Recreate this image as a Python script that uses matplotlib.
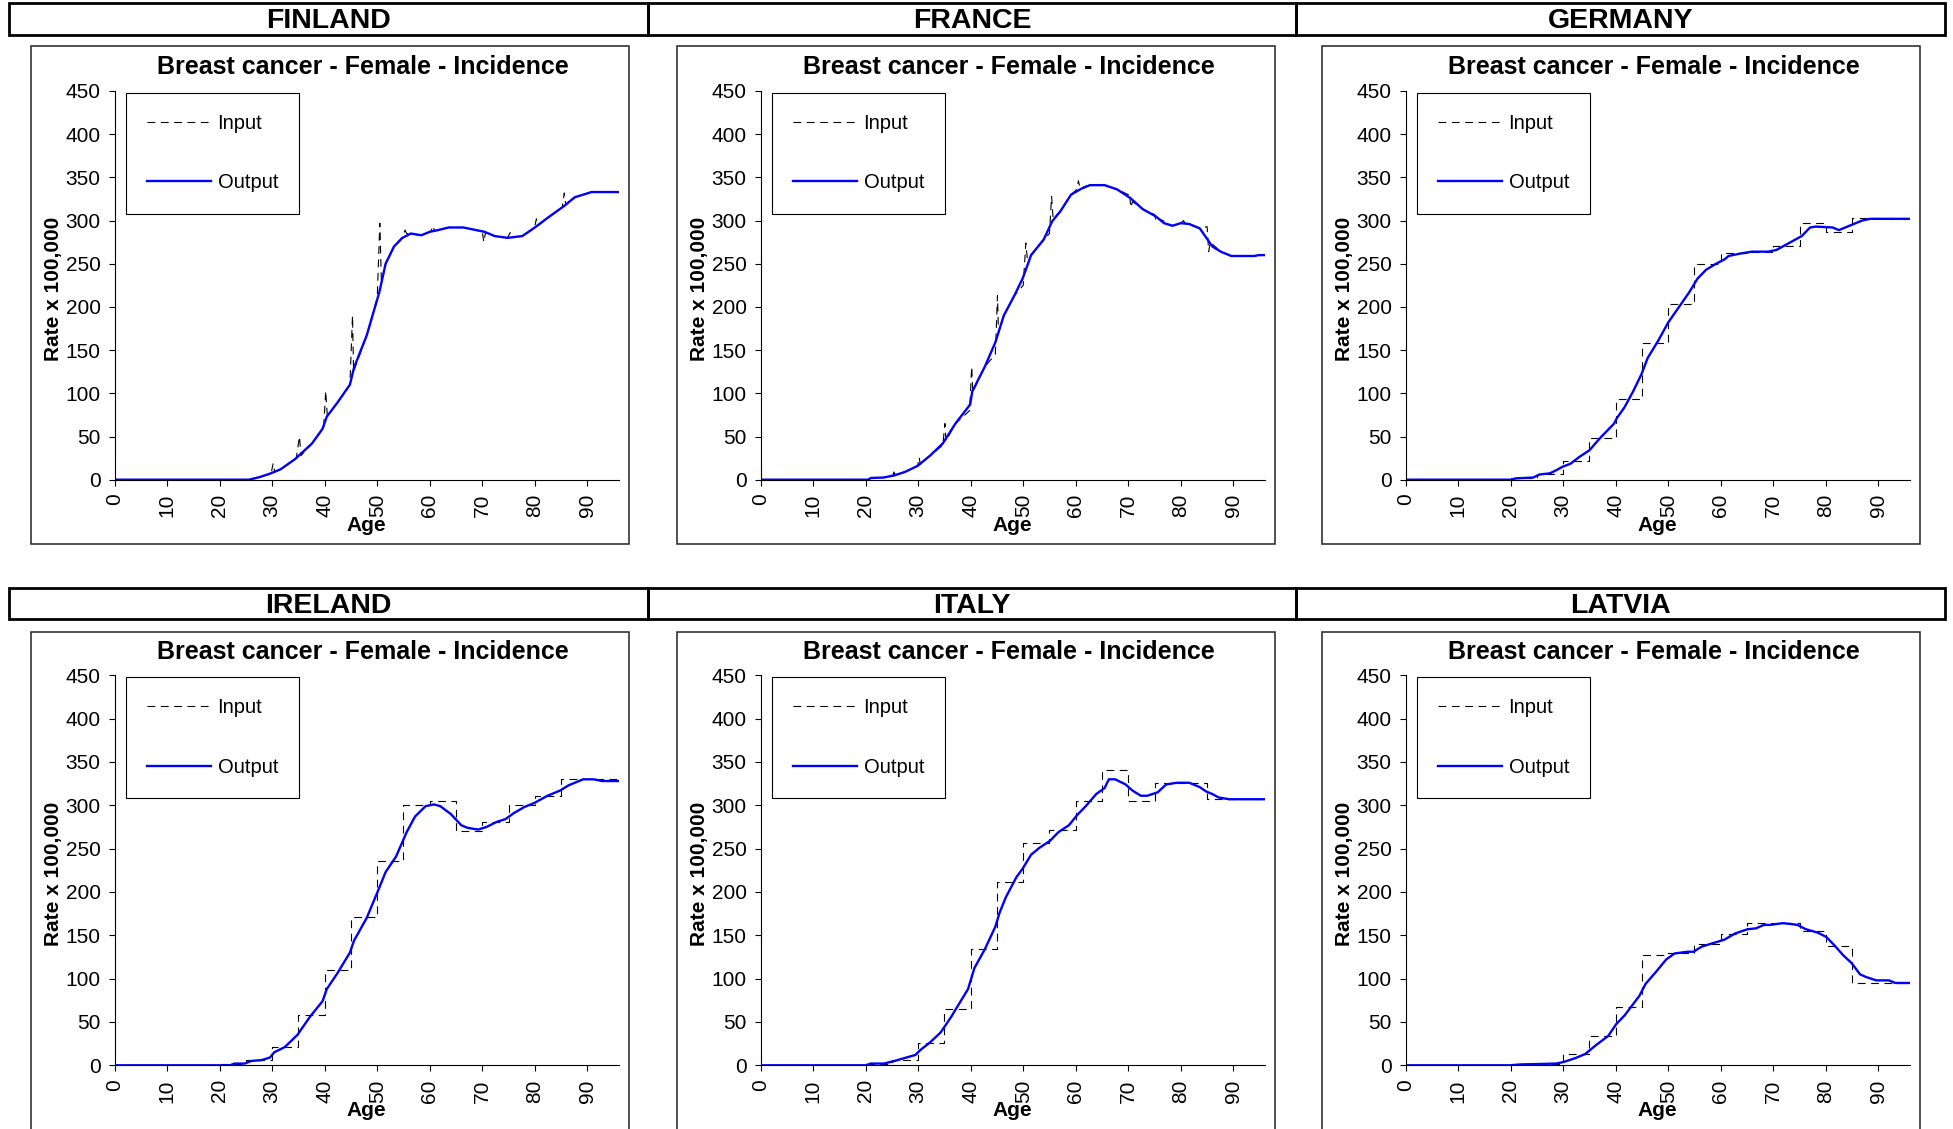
import matplotlib
matplotlib.use("Agg")
import matplotlib.pyplot as plt
from matplotlib.patches import Rectangle

plt.rcParams['font.family'] = ['Liberation Sans', 'DejaVu Sans']

W, H = 1953, 1129

countries = ['FINLAND', 'FRANCE', 'GERMANY', 'IRELAND', 'ITALY', 'LATVIA']
title = 'Breast cancer - Female - Incidence'

# step inputs (5-year age groups, last value repeated for steps-post)
step_ages = [0, 20, 25, 30, 35, 40, 45, 50, 55, 60, 65, 70, 75, 80, 85, 90, 96]
germany_in = [0, 2, 6.5, 22, 48, 94, 158, 203, 250, 263, 264, 270, 297, 287, 303, 303, 303]
ireland_in = [0, 2, 6, 21, 58, 110, 171, 236, 300, 305, 270, 281, 300, 311, 330, 330, 330]
italy_in = [0, 2, 6.5, 26, 65, 134, 212, 257, 272, 305, 341, 305, 326, 326, 307, 307, 307]
latvia_in = [0, 1, 2, 12.5, 34, 67, 127, 130, 140, 151, 164, 164, 155.5, 138, 95, 95, 95]

# Finland / France inputs follow the output with spikes at the group edges
finland_in_age = [0, 25.5, 27.6, 29.8, 30.2, 30.5, 31.6, 34.6, 35.2, 35.5, 37.6, 39.8, 40.2, 40.5,
                  42.4, 44.8, 45.3, 45.5, 48, 50, 50.5, 50.8, 51.6, 53.2, 54.8, 55.3, 55.6, 58.4,
                  60.2, 60.6, 60.9, 63.6, 66.4, 68.8, 70, 70.3, 70.6, 72.4, 74.8, 75.3, 75.6,
                  77.6, 79.9, 80.3, 80.6, 82.4, 85.2, 85.6, 85.9, 87.6, 90.8, 96]
finland_in_val = [0, 0, 3, 7, 19, 9, 12, 25, 50, 28, 42, 60, 103, 74,
                  89, 110, 190, 125, 167, 210, 297, 228, 250, 270, 281, 289, 285, 283,
                  287, 294, 288, 292, 292, 289, 287, 275, 286, 282, 280, 286, 281,
                  282, 291, 302, 294, 303, 315, 332, 318, 327, 333, 333]
france_in_age = [0, 20.5, 21, 23.4, 25.2, 25.4, 25.6, 27.5, 29.9, 30.2, 30.4, 32.3, 34.7, 35.1,
                 35.3, 37.1, 39.8, 40.2, 40.4, 42.7, 44.7, 45.1, 45.3, 46.3, 48.3, 50, 50.5,
                 50.8, 53.9, 55, 55.4, 55.7, 57.1, 59.1, 60.2, 60.5, 60.8, 62.7, 65.5, 67.9,
                 70, 70.2, 70.5, 70.8, 72.8, 75, 75.3, 75.6, 78.4, 80, 80.5, 80.8, 83.6, 85,
                 85.3, 85.6, 87.6, 89.6, 94, 96]
france_in_val = [0, 0, 2, 2.5, 5, 9, 6, 9, 16, 26, 18, 28, 40, 65,
                 45, 65, 80, 131, 102, 131, 145, 213, 170, 190, 213, 225, 274,
                 255, 278, 285, 328, 302, 311, 330, 336, 346, 338, 341, 341, 336,
                 330, 332, 315, 322, 313, 307, 299, 303, 294, 297, 300, 297, 291, 293,
                 264, 275, 264, 259, 259, 260]

# smoothed outputs
finland_out_age = [0, 25.6, 27.6, 29.6, 31.6, 34.4, 37.6, 39.6, 40.4, 42.4, 44.8, 45.6, 48, 50.4,
                   51.6, 53.2, 54.8, 56.4, 58.4, 60, 61.6, 63.6, 66.4, 68.8, 70.4, 72.4, 74.8,
                   77.6, 80, 82.4, 85.6, 87.6, 90.8, 96]
finland_out_val = [0, 0, 3, 7, 12, 24, 42, 59, 73, 89, 110, 130, 167, 217,
                   250, 270, 280, 285, 283, 287, 289, 292, 292, 289, 287, 282, 280,
                   282, 292, 303, 317, 327, 333, 333]
france_out_age = [0, 20.5, 21, 23.4, 25.5, 27.5, 29.9, 32.3, 34.7, 37.1, 39.9, 40.3, 42.7, 44.7,
                  46.3, 48.3, 49.9, 51.5, 53.9, 55.5, 57.1, 59.1, 61.1, 62.7, 65.5, 67.9, 70.4,
                  72.8, 75.2, 76.8, 78.4, 80, 81.6, 83.6, 86, 87.6, 89.6, 94, 94.8, 96]
france_out_val = [0, 0, 2, 2.5, 5, 9, 16, 28, 42, 65, 87, 102, 131, 159,
                  190, 213, 233, 260, 278, 299, 311, 330, 337, 341, 341, 336, 326,
                  313, 305, 297, 294, 297, 296, 291, 270, 264, 259, 259, 260, 260]
germany_out_age = [0, 20, 21.1, 24.3, 25.5, 27.5, 28.7, 29.9, 31.4, 33, 35, 37, 39.7, 40.2, 41.7,
                   43.3, 44.9, 46.1, 48.1, 50, 51.6, 54, 55.6, 57.2, 59.1, 60.7, 61.5, 63.9,
                   65.9, 69, 70.6, 73, 75.4, 77, 78.1, 81.3, 82.5, 84.5, 86.9, 88.4, 96]
germany_out_val = [0, 0, 1.6, 2.5, 6, 7.4, 11, 15, 18.5, 26, 34, 48, 65, 71, 84,
                   102, 122, 141, 161, 182, 196, 217, 233, 243, 250, 255, 259, 262,
                   264, 264, 266, 274, 282, 292, 293, 292, 289, 294, 300, 302, 302]
ireland_out_age = [0, 22, 22.8, 24.8, 26, 28, 29.6, 30.4, 32.4, 34.8, 37.2, 39.6, 40.4, 42.4,
                   44.8, 45.6, 48, 50.4, 51.6, 53.6, 55.6, 57.2, 59.2, 60.8, 62, 64, 66, 67.2,
                   69.2, 70.8, 72.8, 74.4, 76, 78, 80, 82.4, 84.8, 86.4, 89.2, 91.2, 92.8, 96]
ireland_out_val = [0, 0, 2, 2, 5, 6, 9, 15, 21, 35, 56, 74, 88, 106,
                   130, 144, 170, 205, 223, 241, 269, 287, 299, 301, 299, 290, 277, 274,
                   272, 275, 281, 284, 291, 298, 303, 311, 317, 323, 330, 330, 328, 328]
italy_out_age = [0, 20, 21, 23.5, 25.5, 27.5, 29.5, 30.3, 32.3, 34.3, 36.3, 39.5, 40.7, 42.7,
                 44.7, 45.5, 46.7, 48.7, 49.9, 51.5, 53.1, 55.1, 56.7, 58.7, 60.3, 61.9, 63.9,
                 65.5, 66.3, 67.5, 69.5, 70.8, 72.4, 73.6, 75.6, 77.2, 79.2, 81.6, 83.6, 84.8,
                 86, 87.2, 89.2, 96]
italy_out_val = [0, 0, 2, 2, 5, 8.5, 12, 17, 26.6, 38, 56, 88, 112, 134,
                 160, 176, 194, 217, 227, 243, 251, 259, 269, 277, 289, 299, 313,
                 320, 330, 330, 324, 317, 311, 311, 315, 324, 326, 326, 321, 316,
                 313, 309, 307, 307]
latvia_out_age = [0, 20, 21.9, 28.7, 30.2, 32.2, 34.2, 36.2, 38.6, 40.1, 41.7, 44.5, 45.7, 47.7,
                  49.6, 51.2, 53.6, 54.8, 56.4, 59.1, 60.7, 62.7, 65.1, 66.7, 68.2, 69.4, 71.8,
                  73.4, 74.6, 76.2, 78.5, 80.1, 81.7, 83.3, 84.9, 86.5, 87.6, 89.6, 92, 93.2, 96]
latvia_out_val = [0, 0, 1, 2, 4, 8, 13, 23, 34, 47.5, 57.6, 80, 94, 108,
                  122, 129, 131, 131, 137, 142, 145, 152, 157, 158, 162, 162, 164,
                  163, 162, 157, 153, 148, 138, 127, 118, 105, 102, 98, 98, 95, 95]

inputs = [
    (finland_in_age, finland_in_val, None),
    (france_in_age, france_in_val, None),
    (step_ages, germany_in, 'steps-post'),
    (step_ages, ireland_in, 'steps-post'),
    (step_ages, italy_in, 'steps-post'),
    (step_ages, latvia_in, 'steps-post'),
]
outputs = [
    (finland_out_age, finland_out_val),
    (france_out_age, france_out_val),
    (germany_out_age, germany_out_val),
    (ireland_out_age, ireland_out_val),
    (italy_out_age, italy_out_val),
    (latvia_out_age, latvia_out_val),
]


def fx(px):
    return px / W


def fy(py):
    # pixel from top -> figure fraction from bottom
    return 1 - py / H


fig = plt.figure(figsize=(W / 100, H / 100), dpi=100)

header_edges = [8.7, 648, 1296, 1945]
panel_lefts = [31, 677, 1322]
panel_w = 598
rows = [
    # header top, header bottom, panel top, panel bottom, axes zero, axes top
    dict(ht=2.5, hb=35, pt=46, pb=544, y0=479.7, y1=91),
    dict(ht=588, hb=619, pt=631.5, pb=1130, y0=1065.3, y1=675.3),
]

for i, name in enumerate(countries):
    r, c = divmod(i, 3)
    row = rows[r]

    # country header box
    x0, x1 = header_edges[c], header_edges[c + 1]
    fig.patches.append(Rectangle((fx(x0), fy(row['hb'])), fx(x1 - x0), (row['hb'] - row['ht']) / H,
                                 transform=fig.transFigure, fill=False, lw=2.0, ec='black'))
    fig.text(fx((x0 + x1) / 2), fy((row['ht'] + row['hb']) / 2 + 2.5), name, ha='center', va='center',
             fontsize=20.5, fontweight='bold')

    # chart frame
    pl = panel_lefts[c]
    fig.patches.append(Rectangle((fx(pl), fy(row['pb'])), fx(panel_w), (row['pb'] - row['pt']) / H,
                                 transform=fig.transFigure, fill=False, lw=1.1, ec='#222222'))

    ax_l = pl + 83.5
    ax_w = 504.4
    ax = fig.add_axes([fx(ax_l), fy(row['y0']), fx(ax_w), (row['y0'] - row['y1']) / H])

    ia, iv, ds = inputs[i]
    ax.plot(ia, iv, color='black', lw=0.8, ls=(0, (7, 5)), drawstyle=ds or 'default', label='Input')
    oa, ov = outputs[i]
    ax.plot(oa, ov, color='#0000ff', lw=1.7, label='Output')

    ax.set_xlim(0, 96)
    ax.set_ylim(0, 450)
    ax.set_xticks(range(0, 91, 10))
    ax.set_yticks(range(0, 451, 50))
    for s in ['top', 'right']:
        ax.spines[s].set_visible(False)
    for s in ['left', 'bottom']:
        ax.spines[s].set_linewidth(0.8)
    ax.tick_params(direction='out', length=4, width=0.8, labelsize=15, pad=6)
    ax.tick_params(axis='x', labelrotation=90)

    ax.set_xlabel('Age', fontsize=15, fontweight='bold', va='center')
    ax.xaxis.set_label_coords(0.5, -0.117)
    ax.set_ylabel('Rate x 100,000', fontsize=15, fontweight='bold', va='center')
    ax.yaxis.set_label_coords(-0.12, 0.49)

    ax.text(0.4917, 1.061, title, transform=ax.transAxes, ha='center', va='center',
            fontsize=18, fontweight='bold')

    leg = ax.legend(loc='upper left', bbox_to_anchor=(0.0226, 0.995), borderaxespad=0,
                    fontsize=14.5, handlelength=3.2, handletextpad=0.3, borderpad=1.05,
                    labelspacing=2.0, fancybox=False, framealpha=1, edgecolor='black')
    leg.get_frame().set_linewidth(0.8)

fig.savefig('out.png', dpi=100)
